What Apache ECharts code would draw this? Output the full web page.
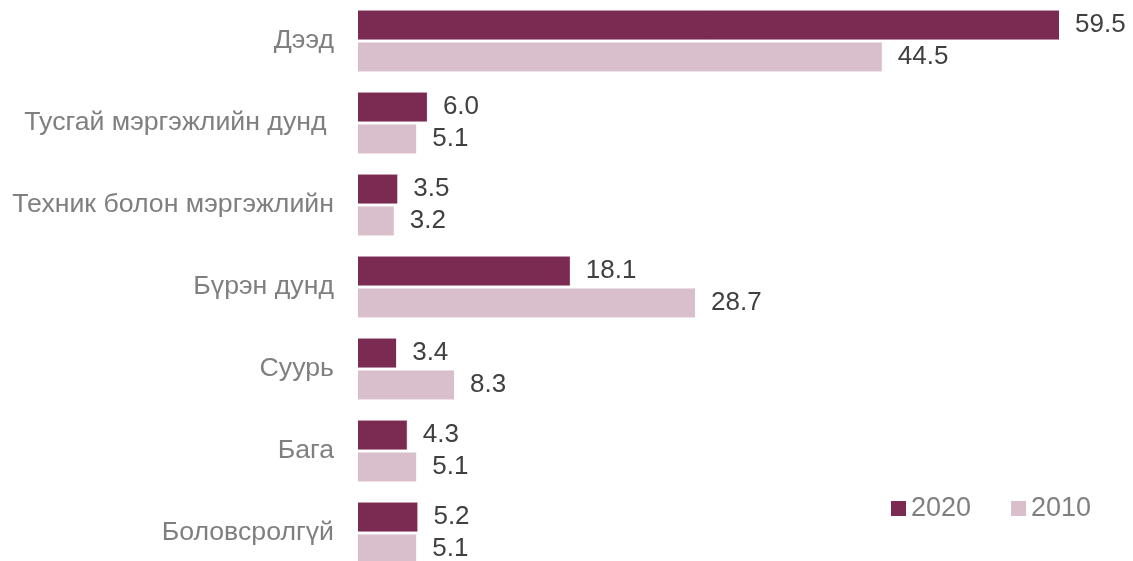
<!DOCTYPE html>
<html>
<head>
<meta charset="utf-8">
<script src="https://cdn.jsdelivr.net/npm/echarts@6/dist/echarts.min.js"></script>
<style>html,body{margin:0;padding:0;background:#fff;}#c{width:1133px;height:561px;}</style>
</head>
<body>
<div id="c"></div>
<script>
const categories = ["Дээд", "Тусгай мэргэжлийн дунд ", "Техник болон мэргэжлийн", "Бүрэн дунд", "Суурь", "Бага", "Боловсролгүй"];
const values2020 = [59.5, 6.0, 3.5, 18.1, 3.4, 4.3, 5.2];
const values2010 = [44.5, 5.1, 3.2, 28.7, 8.3, 5.1, 5.1];
const seriesNames = ["2020", "2010"];

const FONT = "Liberation Sans, Arial, sans-serif";
const chart = echarts.init(document.getElementById('c'), null, {renderer: 'canvas'});
const labelCfg = {
  show: true, position: 'right', distance: 15,
  color: '#404040', fontSize: 26, fontFamily: FONT,
  formatter: p => p.value.toFixed(1)
};
chart.setOption({
  animation: false,
  backgroundColor: '#fff',
  grid: {left: 357, top: 0, width: 768, height: 574, containLabel: false, outerBoundsMode: 'none'},
  legend: {
    data: seriesNames, left: 886, top: 490, icon: 'rect',
    itemWidth: 15, itemHeight: 15, itemGap: 40,
    itemStyle: {borderWidth: 0},
    textStyle: {color: '#7f7f7f', fontSize: 27, fontFamily: FONT}
  },
  xAxis: {
    type: 'value', min: 0, max: 65, show: false,
    splitLine: {show: false}
  },
  yAxis: {
    type: 'category', data: categories, inverse: true,
    axisLine: {show: false}, axisTick: {show: false},
    axisLabel: {color: '#7f7f7f', fontSize: 26.7, fontFamily: FONT, margin: 23}
  },
  series: [
    {name: seriesNames[0], type: 'bar', data: values2020, barWidth: 31, barGap: '3%',
     itemStyle: {color: '#7b2a52', borderColor: '#fff', borderWidth: 1}, label: labelCfg},
    {name: seriesNames[1], type: 'bar', data: values2010, barWidth: 31,
     itemStyle: {color: '#d9bfcc', borderColor: '#fff', borderWidth: 1}, label: labelCfg}
  ]
});
</script>
</body>
</html>
